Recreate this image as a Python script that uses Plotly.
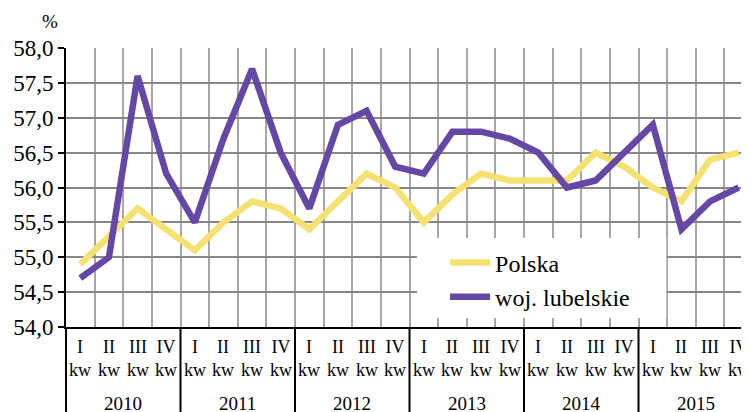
import plotly.graph_objects as go

quarters = ["I", "II", "III", "IV"] * 6
years = ["2010", "2011", "2012", "2013", "2014", "2015"]
polska = [54.9, 55.3, 55.7, 55.4, 55.1, 55.5, 55.8, 55.7, 55.4, 55.8, 56.2, 56.0,
          55.5, 55.9, 56.2, 56.1, 56.1, 56.1, 56.5, 56.3, 56.0, 55.8, 56.4, 56.5]
lubelskie = [54.7, 55.0, 57.6, 56.2, 55.5, 56.7, 57.7, 56.5, 55.7, 56.9, 57.1, 56.3,
             56.2, 56.8, 56.8, 56.7, 56.5, 56.0, 56.1, 56.5, 56.9, 55.4, 55.8, 56.0]
y_ticks = [54.0, 54.5, 55.0, 55.5, 56.0, 56.5, 57.0, 57.5, 58.0]
y_tick_labels = ["54,0", "54,5", "55,0", "55,5", "56,0", "56,5", "57,0", "57,5", "58,0"]

FONT = "Liberation Serif"
YELLOW = "#F5E172"
PURPLE = "#6548A5"

n = len(quarters)
x = list(range(n))
xr = [-0.5, 23.36]

fig = go.Figure()
fig.add_trace(go.Scatter(x=x, y=polska, mode="lines", name="Polska",
                         line=dict(color=YELLOW, width=6.5)))
fig.add_trace(go.Scatter(x=x, y=lubelskie, mode="lines", name="woj. lubelskie",
                         line=dict(color=PURPLE, width=6.5)))

for i, q in enumerate(quarters):
    fig.add_annotation(x=i, y=0, xref="x", yref="paper", text=q + "<br>kw", showarrow=False,
                       yanchor="top", yshift=-8,
                       font=dict(family=FONT, size=18, color="black"))
for k, yr in enumerate(years):
    fig.add_annotation(x=4 * k + 1.5, y=0, xref="x", yref="paper", text=yr, showarrow=False,
                       yanchor="middle", yshift=-76, font=dict(family=FONT, size=19, color="black"))
fig.add_annotation(x=-0.0234, y=1.0, xref="paper", yref="paper", text="%", showarrow=False,
                   xanchor="center", yanchor="middle", yshift=27,
                   font=dict(family=FONT, size=19, color="black"))

for k in range(len(years)):
    xb = 4 * k - 0.5
    px = (xb - xr[0]) / (xr[1] - xr[0])
    fig.add_shape(type="line", xref="paper", yref="paper", x0=px, x1=px, y0=0, y1=-0.31,
                  line=dict(color="black", width=2))
# white legend background box
fig.add_shape(type="rect", xref="paper", yref="paper", x0=0.514, x1=0.879, y0=0.032, y1=0.319,
              fillcolor="white", line=dict(width=0), layer="above")

fig.update_layout(
    width=741, height=404,
    margin=dict(l=58, r=0, t=40, b=85),
    paper_bgcolor="white", plot_bgcolor="white",
    font=dict(color="black"),
    showlegend=True,
    legend=dict(x=0.555, y=0.31, xanchor="left", yanchor="top", bgcolor="rgba(0,0,0,0)",
                font=dict(family=FONT, size=24, color="black"), itemwidth=40,
                tracegroupgap=0),
    xaxis=dict(range=xr, tickvals=[i - 0.5 for i in range(n + 1)], showticklabels=False,
               showgrid=True, gridcolor="#A6A6A6", gridwidth=2, ticks="",
               showline=True, linecolor="black", linewidth=2, zeroline=False),
    yaxis=dict(range=[54, 58], tickvals=y_ticks, ticktext=y_tick_labels,
               showgrid=True, gridcolor="#878787", gridwidth=2,
               ticks="outside", ticklen=6, tickwidth=2, tickcolor="black",
               showline=True, linecolor="black", linewidth=2, zeroline=False,
               tickfont=dict(family=FONT, size=23, color="black")),
)

fig.write_html("out.html")
